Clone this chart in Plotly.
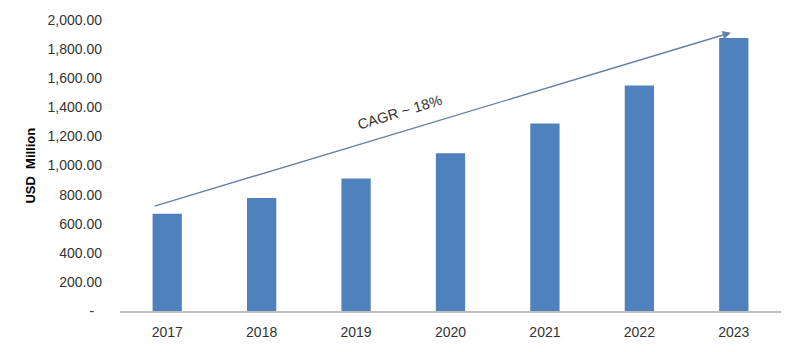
import plotly.graph_objects as go

years = ["2017", "2018", "2019", "2020", "2021", "2022", "2023"]
values = [669, 776, 911, 1084, 1289, 1550, 1877]
y_tickvals = [0, 200, 400, 600, 800, 1000, 1200, 1400, 1600, 1800, 2000]
y_ticktext = ["-\u00a0\u00a0", "200.00", "400.00", "600.00", "800.00", "1,000.00",
              "1,200.00", "1,400.00", "1,600.00", "1,800.00", "2,000.00"]
cagr_label = "CAGR ~ 18%"
arrow_start = (-0.15, 718)
arrow_end = (5.97, 1913)

font_family = "Liberation Sans, Arial, sans-serif"
text_color = "#333333"

fig = go.Figure()
fig.add_trace(go.Bar(x=years, y=values, marker=dict(color="#4F81BD", line=dict(width=0)),
                     hoverinfo="x+y"))

fig.add_annotation(x=arrow_end[0], y=arrow_end[1], ax=arrow_start[0], ay=arrow_start[1],
                   xref="x", yref="y", axref="x", ayref="y", text="", showarrow=True,
                   arrowhead=2, arrowsize=1.2, arrowwidth=1.4, arrowcolor="#6580A6")
fig.add_annotation(x=2.47, y=1368, xref="x", yref="y", text=cagr_label, showarrow=False,
                   textangle=-17, font=dict(family=font_family, size=14.5, color=text_color))
fig.add_annotation(x=-0.136, y=0.5, xref="paper", yref="paper", text="<b>USD\u00a0\u00a0Million</b>",
                   showarrow=False, textangle=-90, xanchor="center", yanchor="middle",
                   font=dict(family=font_family, size=13, color="#000000"))

fig.update_layout(
    width=800, height=352,
    margin=dict(l=120, r=19, t=17, b=38),
    paper_bgcolor="white", plot_bgcolor="white",
    bargap=0.69,
    showlegend=False,
    font=dict(family=font_family, size=14, color=text_color),
    xaxis=dict(type="category", showgrid=False, showline=True, linecolor="#BFBFBF", linewidth=1.5,
               ticks="", ticklabelstandoff=7, tickfont=dict(size=14, color=text_color)),
    yaxis=dict(range=[0, 2000], tickvals=y_tickvals, ticktext=y_ticktext, showgrid=False,
               zeroline=False, showline=False, ticks="", ticklabelstandoff=17,
               tickfont=dict(size=14, color=text_color)),
)

fig.write_html("out.html")
